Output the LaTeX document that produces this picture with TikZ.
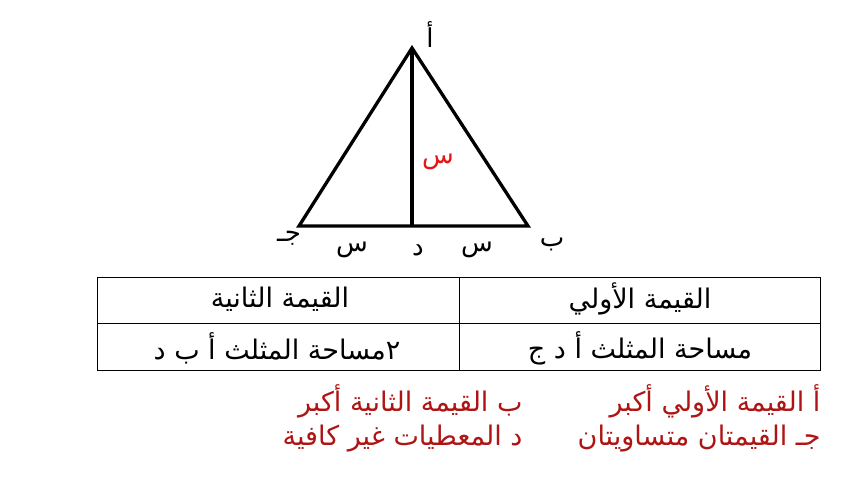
\documentclass[tikz,border=0pt]{standalone}
\usepackage{fontspec}
\newfontfamily\arabicfont[Script=Arabic]{DejaVu Sans}
\TeXXeTstate=1
\definecolor{choicered}{RGB}{175,20,20}
\definecolor{labelred}{RGB}{230,20,20}

\begin{document}
\begin{tikzpicture}[x=1pt,y=-1pt]
\useasboundingbox (0,0) rectangle (856,485);

% triangle
\coordinate (a) at (412,48);
\coordinate (b) at (528,226);
\coordinate (c) at (299,226);
\coordinate (d) at (412,226);

\draw [line width=3.3pt, line join=miter] (a) -- (b) -- (c) -- cycle;
\draw [line width=3.3pt] (a) -- (d);

\begin{scope}[every node/.style={font=\arabicfont\fontsize{26}{30}\selectfont}]
    \node (atext) at (430,35) {\beginR أ\endR};
    \node (btext) at (552,244) {\beginR ب\endR};
    \node (ctext) at (289,238) {\beginR جـ\endR};
    \node (dtext) at (418,250) {\beginR د\endR};
    \node (sleft) at (352,250) {\beginR س\endR};
    \node (sright) at (477,250) {\beginR س\endR};
    \node (sheight) at (438,162) [text=labelred] {\beginR س\endR};
\end{scope}

% table
\draw [line width=1pt] (97,277) rectangle (820,370);
\draw [line width=1pt] (97,323) -- (820,323);
\draw [line width=1pt] (459,277) -- (459,370);

\begin{scope}[every node/.style={font=\arabicfont\fontsize{27}{31}\selectfont}]
    \node (first) at (640,299) {\beginR القيمة الأولي\endR};
    \node (second) at (280,299) {\beginR القيمة الثانية\endR};
    \node (firstval) at (640,348) {\beginR مساحة المثلث أ د ج\endR};
    \node (secondval) at (277,348) {\beginR ٢مساحة المثلث أ ب د\endR};
\end{scope}

% choices
\begin{scope}[every node/.style={font=\arabicfont\fontsize{27}{31}\selectfont,
              text=choicered, anchor=east}]
    \node (choicea) at (824,401) {\beginR أ القيمة الأولي أكبر\endR};
    \node (choiceb) at (526,401) {\beginR ب القيمة الثانية أكبر\endR};
    \node (choicec) at (824,439) {\beginR جـ القيمتان متساويتان\endR};
    \node (choiced) at (526,439) {\beginR د المعطيات غير كافية\endR};
\end{scope}
\end{tikzpicture}
\end{document}
